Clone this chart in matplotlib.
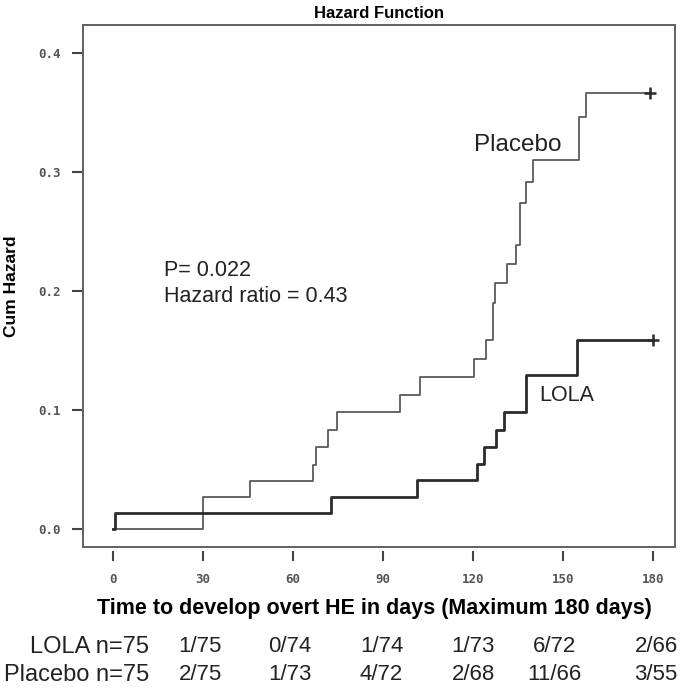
import matplotlib
matplotlib.use("Agg")
from matplotlib import pyplot as plt
from matplotlib.patches import Rectangle
from matplotlib import transforms

plt.rcParams['font.family'] = ['Liberation Sans', 'DejaVu Sans']

# temps (jours) et risque cumulé
lola_t = [0, 0.7, 72.6, 101.2, 121.2, 123.7, 127.7, 130.4, 137.6, 154.5, 180]
lola_h = [0, 0.0135, 0.027, 0.041, 0.0546, 0.0686, 0.083, 0.098, 0.129, 0.159, 0.159]

plac_t = [0, 30, 45.7, 66.8, 67.7, 71.6, 74.6, 95.7, 102.3, 120.4, 124.3,
          126.8, 127.3, 131.2, 134.3, 135.7, 137.7, 140, 155.4, 157.7, 179]
plac_h = [0, 0.0266, 0.0406, 0.0538, 0.069, 0.083, 0.098, 0.113, 0.1275, 0.1429, 0.159,
          0.19, 0.2064, 0.223, 0.2387, 0.2737, 0.292, 0.310, 0.3465, 0.366, 0.366]

x_ticks = [0, 30, 60, 90, 120, 150, 180]
y_ticks = [0.0, 0.1, 0.2, 0.3, 0.4]

# tableau des événements sous l'axe
row_names = ["LOLA n=75", "Placebo n=75"]
lola_row = ["1/75", "0/74", "1/74", "1/73", "6/72", "2/66"]
plac_row = ["2/75", "1/73", "4/72", "2/68", "11/66", "3/55"]
col_pos = [29, 59, 89.5, 120, 147, 181]

fig = plt.figure(figsize=(6.85, 6.88), dpi=100)
ax = fig.add_axes([83 / 685, 1 - 547 / 688, 592 / 685, 522 / 688])

ax.step(plac_t, plac_h, where='post', color='#5a5a5a', lw=1.3)
ax.step(lola_t, lola_h, where='post', color='#2b2b2b', lw=2.0)
ax.plot(plac_t[-1], plac_h[-1], marker='+', color='#2b2b2b', ms=8, mew=1.8)
ax.plot(lola_t[-1], lola_h[-1], marker='+', color='#2b2b2b', ms=8, mew=1.8)

ax.set_xlim(-10, 187.3)
ax.set_ylim(-0.0151, 0.4235)

# cadre + axes décalés façon R
for s in ax.spines.values():
    s.set_visible(False)
ax.spines['bottom'].set_position(('outward', 3))
ax.spines['left'].set_position(('outward', 1))
ax.add_patch(Rectangle((0, 0), 1, 1, transform=ax.transAxes, fill=False,
                       edgecolor='#555555', lw=1.3, clip_on=False))

ax.set_xticks(x_ticks)
ax.set_xticklabels([str(v) for v in x_ticks])
ax.set_yticks(y_ticks)
ax.set_yticklabels(["%.1f" % v for v in y_ticks])
ax.tick_params(length=7, width=1.5, color='#444444', labelcolor='#555555')
ax.tick_params(axis='x', pad=9)
ax.tick_params(axis='y', pad=8)
for lab in ax.get_xticklabels() + ax.get_yticklabels():
    lab.set_family('DejaVu Sans Mono')
    lab.set_fontsize(9)
    lab.set_fontweight('bold')

ax.set_title("Hazard Function", fontsize=12, fontweight='bold', pad=5)
ax.set_ylabel("Cum Hazard", fontsize=12.5, fontweight='bold', va='center')
ax.yaxis.set_label_coords(-0.12, 0.5)
ax.set_xlabel("Time to develop overt HE in days (Maximum 180 days)", fontsize=15.5,
              fontweight='bold', va='center')
ax.xaxis.set_label_coords(0.493, -0.117)

ax.text(120.3, 0.3227, "Placebo", fontsize=17.5, va='center', color='#222222')
ax.text(142, 0.1126, "LOLA", fontsize=15.5, va='center', color='#222222')
ax.text(17, 0.2176, "P= 0.022", fontsize=15.5, va='center', color='#222222')
ax.text(17, 0.195, "Hazard ratio = 0.43", fontsize=15.5, va='center', color='#222222')

trans = transforms.blended_transform_factory(ax.transData, fig.transFigure)
for yy, name, row in [(1 - 647 / 688, row_names[0], lola_row),
                      (1 - 675 / 688, row_names[1], plac_row)]:
    ax.text(12, yy, name, transform=trans, ha='right', va='center', fontsize=17,
            color='#222222', clip_on=False)
    for x, s in zip(col_pos, row):
        ax.text(x, yy, s, transform=trans, ha='center', va='center', fontsize=16,
                color='#222222', clip_on=False)

fig.savefig("out.png", dpi=100)
